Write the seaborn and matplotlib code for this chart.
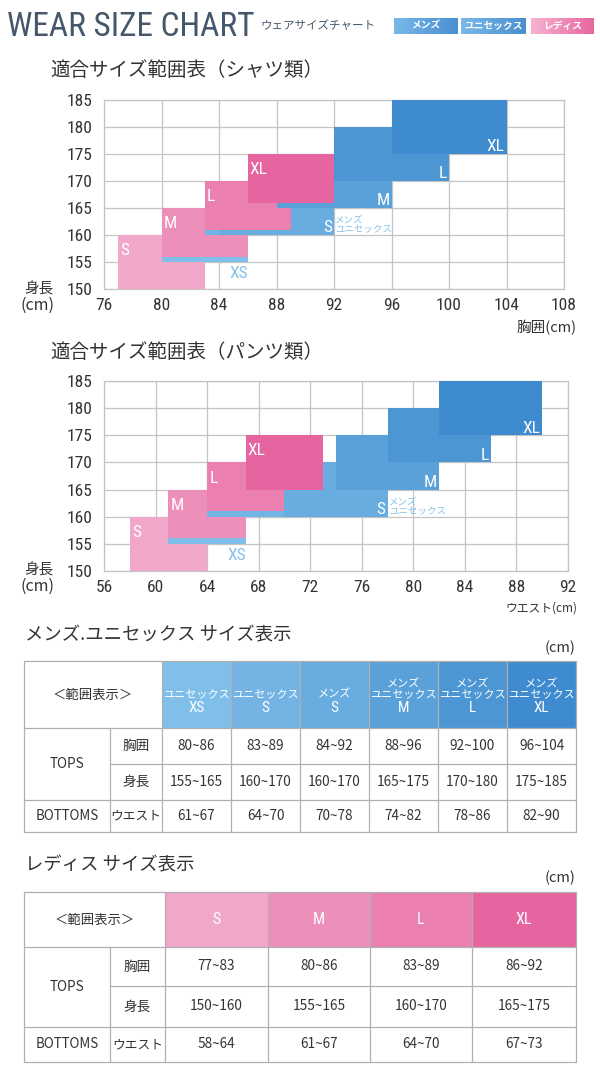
import matplotlib
matplotlib.use("Agg")
import numpy as np
import pandas as pd
import matplotlib.pyplot as plt
from matplotlib import font_manager
from matplotlib.colors import LinearSegmentedColormap
from matplotlib.patches import Rectangle
import seaborn as sns

# ---------------- data ----------------
height_ticks = [150, 155, 160, 165, 170, 175, 180, 185]
chest_ticks = [76, 80, 84, 88, 92, 96, 100, 104, 108]
waist_ticks = [56, 60, 64, 68, 72, 76, 80, 84, 88, 92]

ladies_sizes = ["S", "M", "L", "XL"]
ladies_chest_lo = [77, 80, 83, 86]
ladies_chest_hi = [83, 86, 89, 92]
ladies_height_lo = [150, 155, 160, 165]
ladies_height_hi = [160, 165, 170, 175]
ladies_waist_lo = [58, 61, 64, 67]
ladies_waist_hi = [64, 67, 70, 73]

mens_sizes = ["XS", "S", "S", "M", "L", "XL"]
mens_groups = ["ユニセックス", "ユニセックス", "メンズ",
               "メンズ\nユニセックス", "メンズ\nユニセックス", "メンズ\nユニセックス"]
mens_chest_lo = [80, 83, 84, 88, 92, 96]
mens_chest_hi = [86, 89, 92, 96, 100, 104]
mens_height_lo = [155, 160, 160, 165, 170, 175]
mens_height_hi = [165, 170, 170, 175, 180, 185]
mens_waist_lo = [61, 64, 70, 74, 78, 82]
mens_waist_hi = [67, 70, 78, 82, 86, 90]

badge_labels = ["メンズ", "ユニセックス", "レディス"]

# ---------------- style ----------------
sns.set_theme(style="white")
CJK = ["Noto Sans CJK JP", "DejaVu Sans"]
plt.rcParams["font.family"] = CJK
names = {f.name for f in font_manager.fontManager.ttflist}
NARROW = next((n for n in ["Liberation Sans Narrow", "Roboto Condensed", "Liberation Sans"] if n in names), "DejaVu Sans")

TXT = "#333333"
HEAD = "#45576b"
GRID = "#c4c4c4"
LINE = "#b0b0b0"
PINK = ["#f1a7c9", "#ed8fbb", "#ea7fb0", "#e6649f"]
BLUE = ["#80bfe9", "#74b4e4", "#68ace0", "#5aa1da", "#4d96d4", "#3e8bcf"]
LBLUE = "#86c2ea"

order = [("L", 0), ("M", 0), ("L", 1), ("M", 1), ("M", 2), ("L", 2),
         ("M", 3), ("L", 3), ("M", 4), ("M", 5)]

fig = plt.figure(figsize=(6, 10.7), dpi=100)
bg = fig.add_axes([0, 0, 1, 1])
bg.set_xlim(0, 600)
bg.set_ylim(1070, 0)
bg.axis("off")

# ---------------- header ----------------
bg.text(7, 36.5, "WEAR SIZE CHART", fontsize=24, family=NARROW, color=HEAD,
        ha="left", va="baseline")
bg.text(260, 25.5, "ウェアサイズチャート", fontsize=8.3, color=HEAD, ha="left", va="center")
badge_x = [(394, 458), (461, 526), (531, 594)]
badge_cols = [("#78b9e8", "#4a8fd0"), ("#78b9e8", "#4a8fd0"), ("#f5b3d1", "#e8679f")]
grad = np.linspace(0, 1, 64).reshape(1, -1)
for (x0, x1), (c0, c1), lab in zip(badge_x, badge_cols, badge_labels):
    cmap = LinearSegmentedColormap.from_list("g", [c0, c1])
    bg.imshow(grad, extent=(x0, x1, 34, 18), cmap=cmap, aspect="auto", zorder=1)
    bg.text((x0 + x1) / 2, 26, lab, color="white", fontsize=7, weight="bold",
            ha="center", va="center", zorder=2)
bg.set_xlim(0, 600)
bg.set_ylim(1070, 0)


def draw_chart(ax, l_lo, l_hi, m_lo, m_hi, xticks):
    ax.set_xlim(xticks[0], xticks[-1])
    ax.set_ylim(height_ticks[0], height_ticks[-1])
    ax.set_xticks(xticks)
    ax.set_yticks(height_ticks)
    ax.grid(True, color=GRID, lw=0.9)
    ax.set_axisbelow(True)
    for s in ax.spines.values():
        s.set_color(GRID)
        s.set_linewidth(0.9)
        s.set_zorder(0.5)
    ax.tick_params(axis="y", length=0, labelsize=12.5, labelcolor=TXT, pad=8.5)
    ax.tick_params(axis="x", length=0, labelsize=12.5, labelcolor=TXT, pad=6.5)
    for lbl in ax.get_xticklabels() + ax.get_yticklabels():
        lbl.set_fontfamily(NARROW)
    z = 3
    for kind, i in order:
        if kind == "L":
            x0, x1 = l_lo[i], l_hi[i]
            y0, y1 = ladies_height_lo[i], ladies_height_hi[i]
            raised = any(m_lo[j] < x1 and m_hi[j] > x0 and mens_height_lo[j] == y0
                         for j in range(len(m_lo)))
            b = y0 + (1 if raised else 0)
            ax.bar(x0, y1 - b, width=x1 - x0, bottom=b, align="edge",
                   color=PINK[i], lw=0, zorder=z)
            ax.annotate(ladies_sizes[i], xy=(x0, y1), xytext=(1.5, -14.5),
                        textcoords="offset points", ha="left", va="baseline",
                        color="white", fontsize=12.5, family=NARROW, zorder=30)
        else:
            x0, x1 = m_lo[i], m_hi[i]
            y0, y1 = mens_height_lo[i], mens_height_hi[i]
            ax.bar(x0, y1 - y0, width=x1 - x0, bottom=y0, align="edge",
                   color=BLUE[i], lw=0, zorder=z)
        z += 1
    # blue labels
    for j in range(len(m_lo)):
        x0, x1 = m_lo[j], m_hi[j]
        y0 = mens_height_lo[j]
        if j == 0:
            ax.annotate(mens_sizes[j], xy=(x1, y0), xytext=(0, -3),
                        textcoords="offset points", ha="right", va="top",
                        color=LBLUE, fontsize=12.5, family=NARROW, zorder=30)
        elif j == 1:
            continue
        else:
            ax.annotate(mens_sizes[j], xy=(x1, y0), xytext=(-1.5, 2),
                        textcoords="offset points", ha="right", va="baseline",
                        color="white", fontsize=12.5, family=NARROW, zorder=30)
            if j == 2:
                ax.annotate("メンズ\nユニセックス", xy=(x1, y0), xytext=(1, 0.5),
                            textcoords="offset points", ha="left", va="bottom",
                            color=LBLUE, fontsize=6.8, linespacing=1.05, zorder=30)


ax1 = fig.add_axes([104 / 600, 1 - 289 / 1070, 460 / 600, 189 / 1070])
draw_chart(ax1, ladies_chest_lo, ladies_chest_hi, mens_chest_lo, mens_chest_hi, chest_ticks)
ax2 = fig.add_axes([104 / 600, 1 - 571 / 1070, 464 / 600, 190 / 1070])
draw_chart(ax2, ladies_waist_lo, ladies_waist_hi, mens_waist_lo, mens_waist_hi, waist_ticks)

# chart titles / axis labels
bg.text(50, 71, "適合サイズ範囲表（シャツ類）", fontsize=14, color=TXT, ha="left", va="center")
bg.text(50, 352, "適合サイズ範囲表（パンツ類）", fontsize=14, color=TXT, ha="left", va="center")
for yy in (289, 570):
    bg.text(39, yy, "身長", fontsize=10.5, color=TXT, ha="center", va="center")
    bg.text(38, yy + 16, "(cm)", fontsize=11.5, color=TXT, ha="center", va="center")
bg.text(577, 328, "胸囲(cm)", fontsize=10.5, color=TXT, ha="right", va="center")
bg.text(577, 608, "ウエスト(cm)", fontsize=8.5, color=TXT, ha="right", va="center")


# ---------------- tables ----------------
def draw_table(xs, ys, groups, sizes, head_colors, chest, height, waist):
    for k, c in enumerate(head_colors):
        a, b = xs[2 + k], xs[3 + k]
        cx = (a + b) / 2
        bg.add_patch(Rectangle((a, ys[0]), b - a, ys[1] - ys[0], color=c, lw=0, zorder=1))
        if groups is None:
            bg.text(cx, (ys[0] + ys[1]) / 2, sizes[k], color="white", fontsize=11.5,
                    family=NARROW, ha="center", va="center", zorder=3)
        else:
            bg.text(cx, ys[1] - 28, groups[k], color="white", fontsize=8.0,
                    ha="center", va="bottom", linespacing=1.1, zorder=3)
            bg.text(cx, ys[1] - 19.5, sizes[k], color="white", fontsize=11,
                    family=NARROW, ha="center", va="center", zorder=3)
    lk = dict(color=LINE, lw=0.9, zorder=2)
    for y in (ys[0], ys[1], ys[3], ys[4]):
        bg.plot([xs[0], xs[-1]], [y, y], **lk)
    bg.plot([xs[1], xs[-1]], [ys[2], ys[2]], **lk)
    bg.plot([xs[0], xs[0]], [ys[0], ys[4]], **lk)
    bg.plot([xs[1], xs[1]], [ys[1], ys[4]], **lk)
    for x in xs[2:]:
        bg.plot([x, x], [ys[0], ys[4]], **lk)
    bg.text((xs[0] + xs[2]) / 2, (ys[0] + ys[1]) / 2, "＜範囲表示＞", fontsize=9.6,
            color=TXT, ha="center", va="center")
    c01 = (xs[0] + xs[1]) / 2
    c12 = (xs[1] + xs[2]) / 2
    bg.text(c01, (ys[1] + ys[3]) / 2, "TOPS", fontsize=9.8, color=TXT, ha="center", va="center")
    bg.text(c01, (ys[3] + ys[4]) / 2, "BOTTOMS", fontsize=9.6, color=TXT, ha="center", va="center")
    bg.text(c12, (ys[1] + ys[2]) / 2, "胸囲", fontsize=9.8, color=TXT, ha="center", va="center")
    bg.text(c12, (ys[2] + ys[3]) / 2, "身長", fontsize=9.8, color=TXT, ha="center", va="center")
    bg.text(c12, (ys[3] + ys[4]) / 2, "ウエスト", fontsize=9.2, color=TXT, ha="center", va="center")
    df = pd.DataFrame({"chest": chest, "height": height, "waist": waist})
    for k, row in df.iterrows():
        cx = (xs[2 + k] + xs[3 + k]) / 2
        for r, col in enumerate(["chest", "height", "waist"]):
            bg.text(cx, (ys[1 + r] + ys[2 + r]) / 2, row[col], fontsize=9.8,
                    color=TXT, ha="center", va="center")


def rng(lo, hi):
    return [f"{a}~{b}" for a, b in zip(lo, hi)]


bg.text(25, 635, "メンズ.ユニセックス サイズ表示", fontsize=13.2, color=TXT, ha="left", va="center")
bg.text(576, 648, "(cm)", fontsize=10.5, color=TXT, ha="right", va="center")
draw_table([24, 110, 162, 231, 300, 369, 438, 507, 576], [661, 728, 764, 800, 832],
           mens_groups, mens_sizes, BLUE,
           rng(mens_chest_lo, mens_chest_hi), rng(mens_height_lo, mens_height_hi),
           rng(mens_waist_lo, mens_waist_hi))

bg.text(25, 865, "レディス サイズ表示", fontsize=13.2, color=TXT, ha="left", va="center")
bg.text(576, 878, "(cm)", fontsize=10.5, color=TXT, ha="right", va="center")
draw_table([24, 110, 165, 268, 370, 472, 576], [892, 947, 986, 1027, 1062],
           None, ladies_sizes, PINK,
           rng(ladies_chest_lo, ladies_chest_hi), rng(ladies_height_lo, ladies_height_hi),
           rng(ladies_waist_lo, ladies_waist_hi))

bg.set_xlim(0, 600)
bg.set_ylim(1070, 0)
fig.savefig("out.png", dpi=100)
